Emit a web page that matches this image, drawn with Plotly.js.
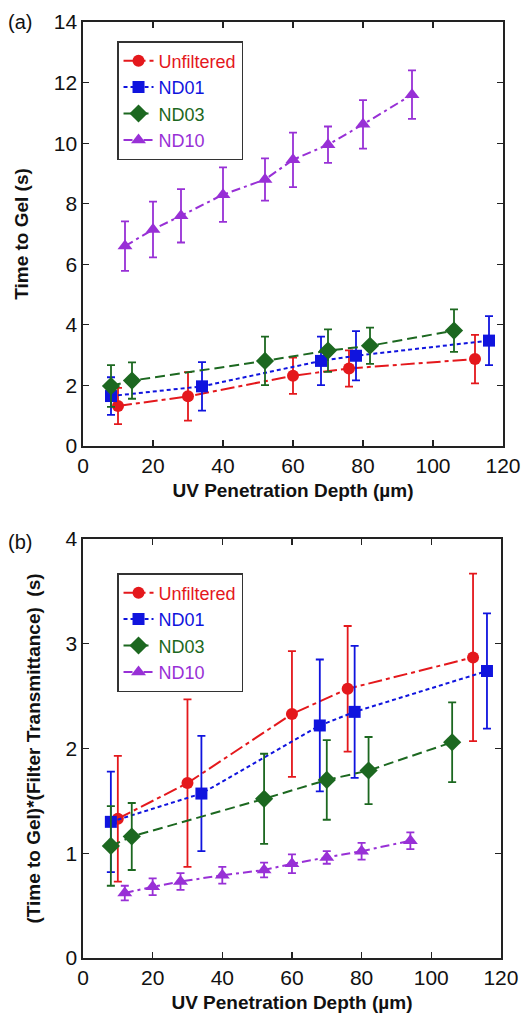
<!DOCTYPE html>
<html>
<head>
<meta charset="utf-8">
<script src="https://cdn.plot.ly/plotly-3.0.1.min.js"></script>
<style>html,body{margin:0;padding:0;background:#fff;}#chart{width:528px;height:1018px;}</style>
</head>
<body>
<div id="chart"></div>
<script>
// ---- Data ----
const seriesNames = ["Unfiltered", "ND01", "ND03", "ND10"];

const depthUnf  = [10, 30, 60, 76, 112];
const gelUnf    = [1.32, 1.64, 2.32, 2.56, 2.87];
const errUnf    = [0.60, 0.80, 0.60, 0.60, 0.80];
const prodUnf   = [1.33, 1.67, 2.33, 2.57, 2.87];
const errProdUnf = [0.60, 0.80, 0.60, 0.60, 0.80];

const depthND01 = [8, 34, 68, 78, 116];
const gelND01   = [1.65, 1.97, 2.81, 2.98, 3.48];
const errND01   = [0.62, 0.80, 0.80, 0.81, 0.81];
const prodND01  = [1.30, 1.57, 2.22, 2.35, 2.74];
const errProdND01 = [0.48, 0.55, 0.63, 0.63, 0.55];

const depthND03 = [8, 14, 52, 70, 82, 106];
const gelND03   = [1.98, 2.16, 2.81, 3.15, 3.31, 3.81];
const errND03   = [0.69, 0.60, 0.80, 0.70, 0.60, 0.70];
const prodND03  = [1.07, 1.16, 1.52, 1.70, 1.79, 2.06];
const errProdND03 = [0.38, 0.32, 0.43, 0.38, 0.32, 0.38];

const depthND10 = [12, 20, 28, 40, 52, 60, 70, 80, 94];
const gelND10   = [6.60, 7.15, 7.60, 8.30, 8.80, 9.45, 9.95, 10.62, 11.60];
const errND10   = [0.82, 0.92, 0.88, 0.90, 0.70, 0.90, 0.60, 0.80, 0.80];
const prodND10  = [0.62, 0.68, 0.73, 0.79, 0.84, 0.90, 0.96, 1.02, 1.12];
const errProdND10 = [0.07, 0.08, 0.08, 0.08, 0.07, 0.09, 0.06, 0.08, 0.08];

const xTicks = [0, 20, 40, 60, 80, 100, 120];
const yTicksA = [0, 2, 4, 6, 8, 10, 12, 14];
const yTicksB = [0, 1, 2, 3, 4];

// ---- Styles ----
const FONT = "Liberation Sans, Arial, sans-serif";
const styles = [
  {color: "rgb(228,24,28)", symbol: "circle", size: 12, dash: "14px,4px,4px,4px"},
  {color: "rgb(16,20,222)", symbol: "square", size: 12, dash: "4px,3px"},
  {color: "rgb(28,104,32)", symbol: "diamond", size: 14, dash: "10px,5px"},
  {color: "rgb(152,48,214)", symbol: "triangle-up", size: 13, dash: "9px,4px,3px,4px"}
];
const dataA = [[depthUnf, gelUnf, errUnf], [depthND01, gelND01, errND01], [depthND03, gelND03, errND03], [depthND10, gelND10, errND10]];
const dataB = [[depthUnf, prodUnf, errProdUnf], [depthND01, prodND01, errProdND01], [depthND03, prodND03, errProdND03], [depthND10, prodND10, errProdND10]];

function mk(d, i, xa, ya, leg) {
  const s = styles[i];
  return {
    x: d[0], y: d[1], xaxis: xa, yaxis: ya, legend: leg,
    type: "scatter", mode: "lines+markers",
    name: '<span style="color:' + s.color + '">' + seriesNames[i] + '</span>',
    line: {color: s.color, width: 2, dash: s.dash},
    marker: {color: s.color, symbol: s.symbol, size: s.size},
    error_y: {type: "data", array: d[2], visible: true, color: s.color, thickness: 1.8, width: 4}
  };
}
const traces = [];
dataA.forEach((d, i) => traces.push(mk(d, i, "x", "y", "legend")));
dataB.forEach((d, i) => traces.push(mk(d, i, "x2", "y2", "legend2")));

const axCommon = {
  showline: true, linecolor: "#222", linewidth: 1.6, mirror: "ticks",
  ticks: "inside", ticklen: 6, tickwidth: 1.2, tickcolor: "#222",
  showgrid: false, zeroline: false,
  tickfont: {family: FONT, size: 21, color: "#111"}
};
const titleFont = {family: FONT, size: 19, color: "#111", weight: "bold"};
const legFont = {family: FONT, size: 18};

const layout = {
  width: 528, height: 1018,
  margin: {l: 83, r: 25, t: 22, b: 60},
  paper_bgcolor: "#fff", plot_bgcolor: "#fff",
  showlegend: true,
  font: {family: FONT},
  xaxis: Object.assign({}, axCommon, {domain: [0, 1], anchor: "y", range: [0, 120], tickvals: xTicks,
    title: {text: "<b>UV Penetration Depth (µm)</b>", font: titleFont, standoff: 8}}),
  yaxis: Object.assign({}, axCommon, {domain: [0.547, 1], anchor: "x", range: [0, 14], tickvals: yTicksA,
    title: {text: "<b>Time to Gel (s)</b>", font: titleFont, standoff: 20}}),
  xaxis2: Object.assign({}, axCommon, {domain: [0, 0.995], anchor: "y2", range: [0, 120], tickvals: xTicks,
    title: {text: "<b>UV Penetration Depth (µm)</b>", font: titleFont, standoff: 8}}),
  yaxis2: Object.assign({}, axCommon, {domain: [0, 0.4476], anchor: "x2", range: [0, 4], tickvals: yTicksB,
    title: {text: "<b>(Time to Gel)*(Filter Transmittance)  (s)</b>", font: titleFont, standoff: 20}}),
  legend: {x: 0.081, y: 0.9797, xanchor: "left", yanchor: "top", bgcolor: "#fff",
    bordercolor: "#333", borderwidth: 1.5, font: legFont, tracegroupgap: 0, itemwidth: 30},
  legend2: {x: 0.081, y: 0.4113, xanchor: "left", yanchor: "top", bgcolor: "#fff",
    bordercolor: "#333", borderwidth: 1.5, font: legFont, tracegroupgap: 0, itemwidth: 30},
  annotations: [
    {text: "(a)", xref: "paper", yref: "paper", x: -0.15, y: 1.0, xanchor: "center", yanchor: "middle",
     showarrow: false, font: {family: FONT, size: 20, color: "#111"}},
    {text: "(b)", xref: "paper", yref: "paper", x: -0.15, y: 0.444, xanchor: "center", yanchor: "middle",
     showarrow: false, font: {family: FONT, size: 20, color: "#111"}}
  ]
};

Plotly.newPlot("chart", traces, layout, {displayModeBar: false, staticPlot: true});
</script>
</body>
</html>
